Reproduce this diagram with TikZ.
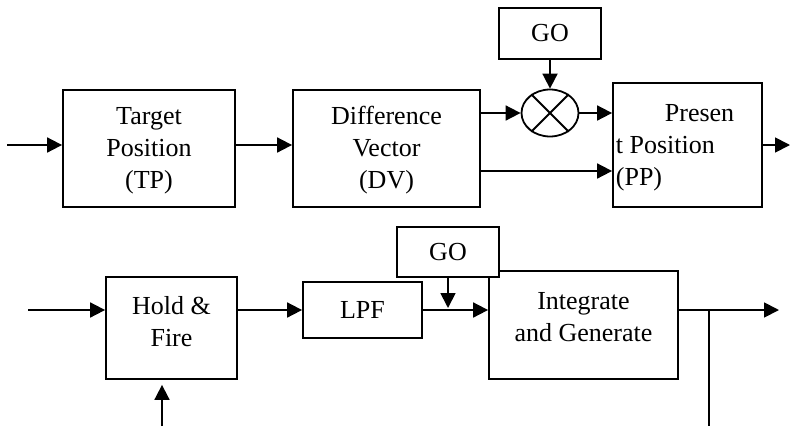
\documentclass[tikz,border=0pt]{standalone}
\usepackage{fontspec}
\setmainfont{Liberation Serif}
\usetikzlibrary{arrows.meta,shapes.geometric}
\begin{document}
\begin{tikzpicture}[x=1pt,y=-1pt,
  line width=1.8pt,
  every node/.style={font=\fontsize{26}{32}\selectfont},
  blk/.style={draw, rectangle, fill=white, inner sep=0pt, align=center},
  arr/.style={-{Triangle[length=15pt,width=15pt]}},
  lbl/.style={align=center, inner sep=0pt}]
\useasboundingbox (0,0) rectangle (794,426);

% ---- upper chain: TP -> DV -> (x GO) -> PP ----
\node[blk, minimum width=172pt, minimum height=117pt,
  label={[lbl, yshift=-2pt]center:Target\\Position\\(TP)}] (tp) at (149,148.5) {};
\node[blk, minimum width=187pt, minimum height=117pt,
  label={[lbl, yshift=-2pt]center:Difference\\Vector\\(DV)}] (dv) at (386.5,148.5) {};
\node[blk, minimum width=102pt, minimum height=51pt] (go1) at (550,33.5) {GO};
\node[draw, ellipse, inner sep=0pt, minimum width=57pt, minimum height=47pt] (mul) at (550,113) {};
\draw (mul.135) -- (mul.-45) (mul.45) -- (mul.-135);
\node[blk, minimum width=149pt, minimum height=124pt] (pp) at (687.5,145) {};
\node[lbl, align=left, anchor=west] (pptext) at (615,148)
  {\hspace*{49pt}Presen\\t Position\\(PP)};

\coordinate (in1) at (7,145);
\coordinate (out1) at (790,145);
\coordinate (low) at (0,171);

\draw[arr] (in1) -- (in1 -| tp.west);
\draw[arr] (tp.east |- in1) -- (dv.west |- in1);
\draw[arr] (dv.east |- mul.west) -- (mul.west);
\draw[arr] (go1.south) -- (mul.north);
\draw[arr] (mul.east) -- (pp.west |- mul.east);
\draw[arr] (dv.east |- low) -- (pp.west |- low);
\draw[arr] (pp.east |- out1) -- (out1);

% ---- lower chain: Hold & Fire -> LPF -> Integrate and Generate ----
\node[blk, minimum width=131pt, minimum height=102pt,
  label={[lbl, yshift=6pt]center:Hold \&\\Fire}] (hf) at (171.5,328) {};
\node[blk, minimum width=119pt, minimum height=56pt] (lpf) at (362.5,310) {LPF};
\node[blk, minimum width=189pt, minimum height=108pt,
  label={[lbl, yshift=8pt]center:Integrate\\and Generate}] (ig) at (583.5,325) {};
\node[blk, minimum width=102pt, minimum height=50pt] (go2) at (448,252) {GO};

\coordinate (in2) at (28,310);
\coordinate (trig) at (162,426);
\coordinate (out2) at (779,310);
\coordinate (tap) at (709,310);
\coordinate (tapend) at (709,426);

\draw[arr] (in2) -- (in2 -| hf.west);
\draw[arr, shorten >=5pt] (trig) -- (trig |- hf.south);
\draw[arr] (hf.east |- lpf.west) -- (lpf.west);
\draw[arr] (lpf.east) -- (ig.west |- lpf.east);
\draw[arr] (go2.south) -- (go2.south |- 0,308);
\draw[arr] (ig.east |- out2) -- (out2);
\draw (tap) -- (tapend);
\end{tikzpicture}
\end{document}
